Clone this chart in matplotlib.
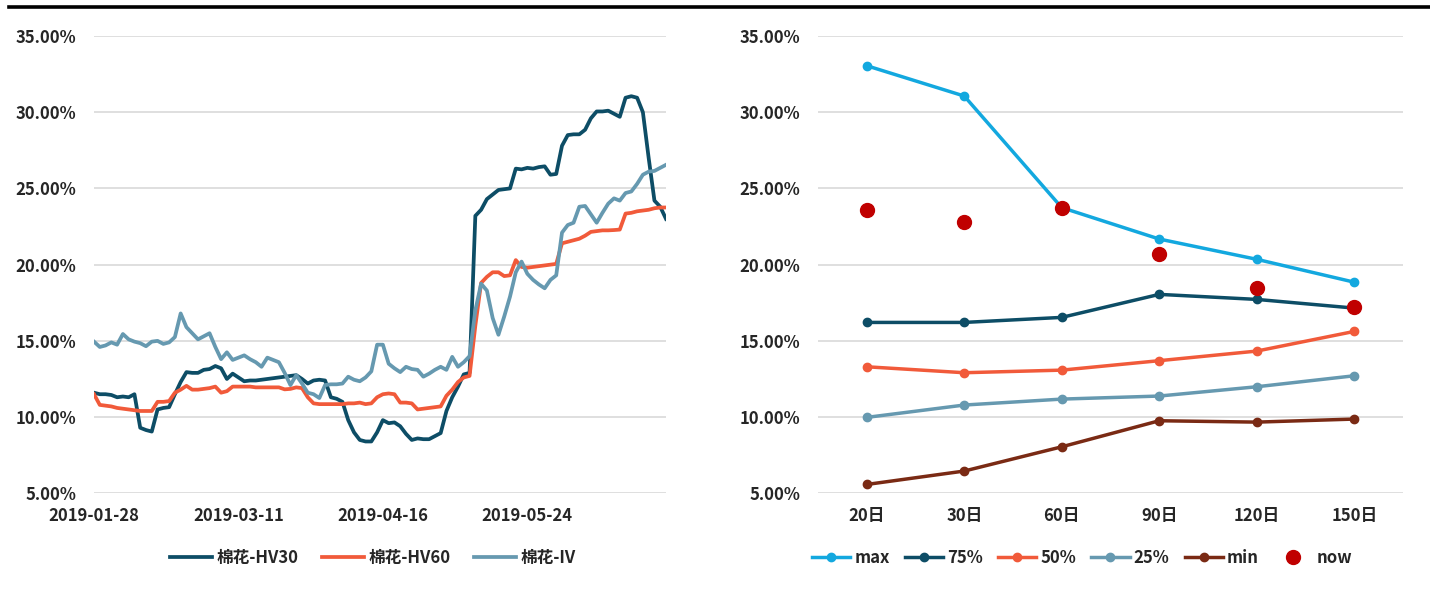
import numpy as np
import matplotlib
matplotlib.use("Agg")
import matplotlib.pyplot as plt
from matplotlib.lines import Line2D
from matplotlib.ticker import FuncFormatter

plt.rcParams['font.family'] = ['Noto Sans CJK SC', 'DejaVu Sans']
plt.rcParams['font.weight'] = 'bold'

# left chart: cotton volatility history (%), one value per trading day
date_ticks = ["2019-01-28", "2019-03-11", "2019-04-16", "2019-05-24"]
date_tick_idx = [0, 25, 50, 75]

hv30 = [11.6, 11.5, 11.5, 11.45, 11.3, 11.35, 11.3, 11.5, 9.3, 9.15,
        9.05, 10.5, 10.6, 10.65, 11.5, 12.3, 12.95, 12.9, 12.9, 13.1,
        13.15, 13.35, 13.2, 12.5, 12.85, 12.6, 12.35, 12.4, 12.4, 12.45,
        12.5, 12.55, 12.6, 12.65, 12.7, 12.75, 12.5, 12.2, 12.4, 12.45,
        12.4, 11.3, 11.2, 11.0, 9.8, 9.0, 8.5, 8.4, 8.4, 9.0,
        9.8, 9.6, 9.65, 9.4, 8.9, 8.5, 8.6, 8.55, 8.55, 8.75,
        8.95, 10.4, 11.3, 12.0, 12.8, 12.9, 23.2, 23.6, 24.3, 24.6,
        24.9, 24.95, 25.0, 26.3, 26.25, 26.35, 26.3, 26.4, 26.45, 25.9,
        25.95, 27.8, 28.5, 28.55, 28.55, 28.85, 29.6, 30.05, 30.05, 30.1,
        29.9, 29.7, 30.95, 31.05, 30.95, 30.0, 27.0, 24.2, 23.8, 23.0]

hv60 = [11.5, 10.8, 10.75, 10.7, 10.6, 10.55, 10.5, 10.45, 10.4, 10.4,
        10.4, 11.0, 11.0, 11.05, 11.6, 11.8, 12.05, 11.8, 11.8, 11.85,
        11.9, 12.0, 11.6, 11.7, 12.0, 12.0, 12.0, 12.0, 11.95, 11.95,
        11.95, 11.95, 11.95, 11.82, 11.85, 11.95, 11.9, 11.3, 10.9, 10.85,
        10.85, 10.85, 10.85, 10.85, 10.9, 10.9, 10.95, 10.85, 10.9, 11.3,
        11.5, 11.55, 11.5, 10.95, 10.95, 10.9, 10.5, 10.55, 10.6, 10.65,
        10.7, 11.4, 11.8, 12.3, 12.6, 12.7, 16.0, 18.8, 19.2, 19.5,
        19.5, 19.25, 19.3, 20.3, 19.85, 19.8, 19.85, 19.9, 19.95, 20.0,
        20.05, 21.4, 21.5, 21.6, 21.7, 21.9, 22.15, 22.2, 22.25, 22.25,
        22.27, 22.3, 23.35, 23.4, 23.5, 23.55, 23.6, 23.7, 23.75, 23.75]

iv = [14.95, 14.6, 14.7, 14.9, 14.75, 15.45, 15.1, 14.95, 14.85, 14.65,
      14.95, 15.0, 14.8, 14.9, 15.25, 16.8, 15.9, 15.5, 15.1, 15.3,
      15.5, 14.6, 13.8, 14.25, 13.75, 13.9, 14.05, 13.8, 13.6, 13.3,
      13.9, 13.75, 13.6, 12.9, 12.1, 12.75, 12.2, 11.6, 11.5, 11.25,
      12.1, 12.15, 12.15, 12.2, 12.65, 12.45, 12.35, 12.6, 13.0, 14.75,
      14.75, 13.5, 13.2, 12.95, 13.3, 13.15, 13.1, 12.65, 12.85, 13.1,
      13.3, 13.1, 13.95, 13.3, 13.6, 14.0, 17.0, 18.75, 18.3, 16.5,
      15.4, 16.6, 17.9, 19.5, 20.2, 19.4, 19.0, 18.7, 18.45, 19.0,
      19.3, 22.1, 22.6, 22.75, 23.8, 23.85, 23.3, 22.75, 23.4, 24.0,
      24.35, 24.2, 24.7, 24.8, 25.3, 25.9, 26.1, 26.15, 26.35, 26.55]

# right chart: volatility cone (%)
windows = ["20日", "30日", "60日", "90日", "120日", "150日"]
cone_max = [33.05, 31.06, 23.74, 21.68, 20.35, 18.85]
cone_p75 = [16.21, 16.21, 16.54, 18.05, 17.72, 17.15]
cone_p50 = [13.3, 12.91, 13.08, 13.7, 14.33, 15.62]
cone_p25 = [9.98, 10.79, 11.18, 11.38, 11.99, 12.71]
cone_min = [5.58, 6.46, 8.05, 9.76, 9.67, 9.87]
cone_now = [23.58, 22.78, 23.69, 20.68, 18.48, 17.24]

c_dark = '#0d4d66'
c_orange = '#f15a3a'
c_steel = '#6699b0'
c_sky = '#13a8df'
c_brown = '#7a2a14'
c_red = '#c00000'
txt = '#262626'

fig = plt.figure(figsize=(14.3, 5.89), dpi=100)
fig.add_artist(Line2D([9 / 1430, 1.0], [1 - 7 / 589, 1 - 7 / 589], color='black', linewidth=2.6))

pct = FuncFormatter(lambda v, p: f"{v:.2f}%")


def style_axis(ax):
    ax.set_ylim(5, 35)
    ax.set_yticks(np.arange(5, 36, 5))
    ax.yaxis.set_major_formatter(pct)
    ax.grid(axis='y', color='#d9d9d9', linewidth=1.2)
    ax.set_axisbelow(True)
    for s in ax.spines.values():
        s.set_visible(False)
    ax.tick_params(length=0, labelsize=12, colors=txt)
    ax.tick_params(axis='y', pad=13)
    ax.tick_params(axis='x', pad=10)


# left: history
ax1 = fig.add_axes([94 / 1430, 1 - 493.3 / 589, 572 / 1430, 457.3 / 589])
x = np.arange(len(hv30))
ax1.plot(x, hv30, color=c_dark, linewidth=2.7, label="棉花-HV30")
ax1.plot(x, hv60, color=c_orange, linewidth=2.7, label="棉花-HV60")
ax1.plot(x, iv, color=c_steel, linewidth=2.7, label="棉花-IV")
ax1.set_xlim(0, len(hv30) - 1)
ax1.set_xticks(date_tick_idx)
ax1.set_xticklabels(date_ticks)
style_axis(ax1)
ax1.legend(loc='center', bbox_to_anchor=(373 / 1430, 1 - 558 / 589), bbox_transform=fig.transFigure,
           ncol=3, frameon=False, fontsize=12, handlelength=2.5, handletextpad=0.3,
           columnspacing=1.4, labelcolor=txt)

# right: volatility cone
ax2 = fig.add_axes([818 / 1430, 1 - 493.3 / 589, 585 / 1430, 457.3 / 589])
xc = np.arange(len(windows))
for vals, col, name in [(cone_max, c_sky, 'max'), (cone_p75, c_dark, '75%'),
                        (cone_p50, c_orange, '50%'), (cone_p25, c_steel, '25%'),
                        (cone_min, c_brown, 'min')]:
    ax2.plot(xc, vals, color=col, linewidth=2.5, marker='o', markersize=6, label=name)
ax2.plot(xc, cone_now, linestyle='none', marker='o', markersize=10, color=c_red, label='now')
ax2.set_xlim(-0.5, len(windows) - 0.5)
ax2.set_xticks(xc)
ax2.set_xticklabels(windows)
style_axis(ax2)
ax2.legend(loc='center', bbox_to_anchor=(1082 / 1430, 1 - 558 / 589), bbox_transform=fig.transFigure,
           ncol=6, frameon=False, fontsize=12, handlelength=2.3, handletextpad=0.25,
           columnspacing=0.9, labelcolor=txt)

fig.savefig("out.png", dpi=100)
